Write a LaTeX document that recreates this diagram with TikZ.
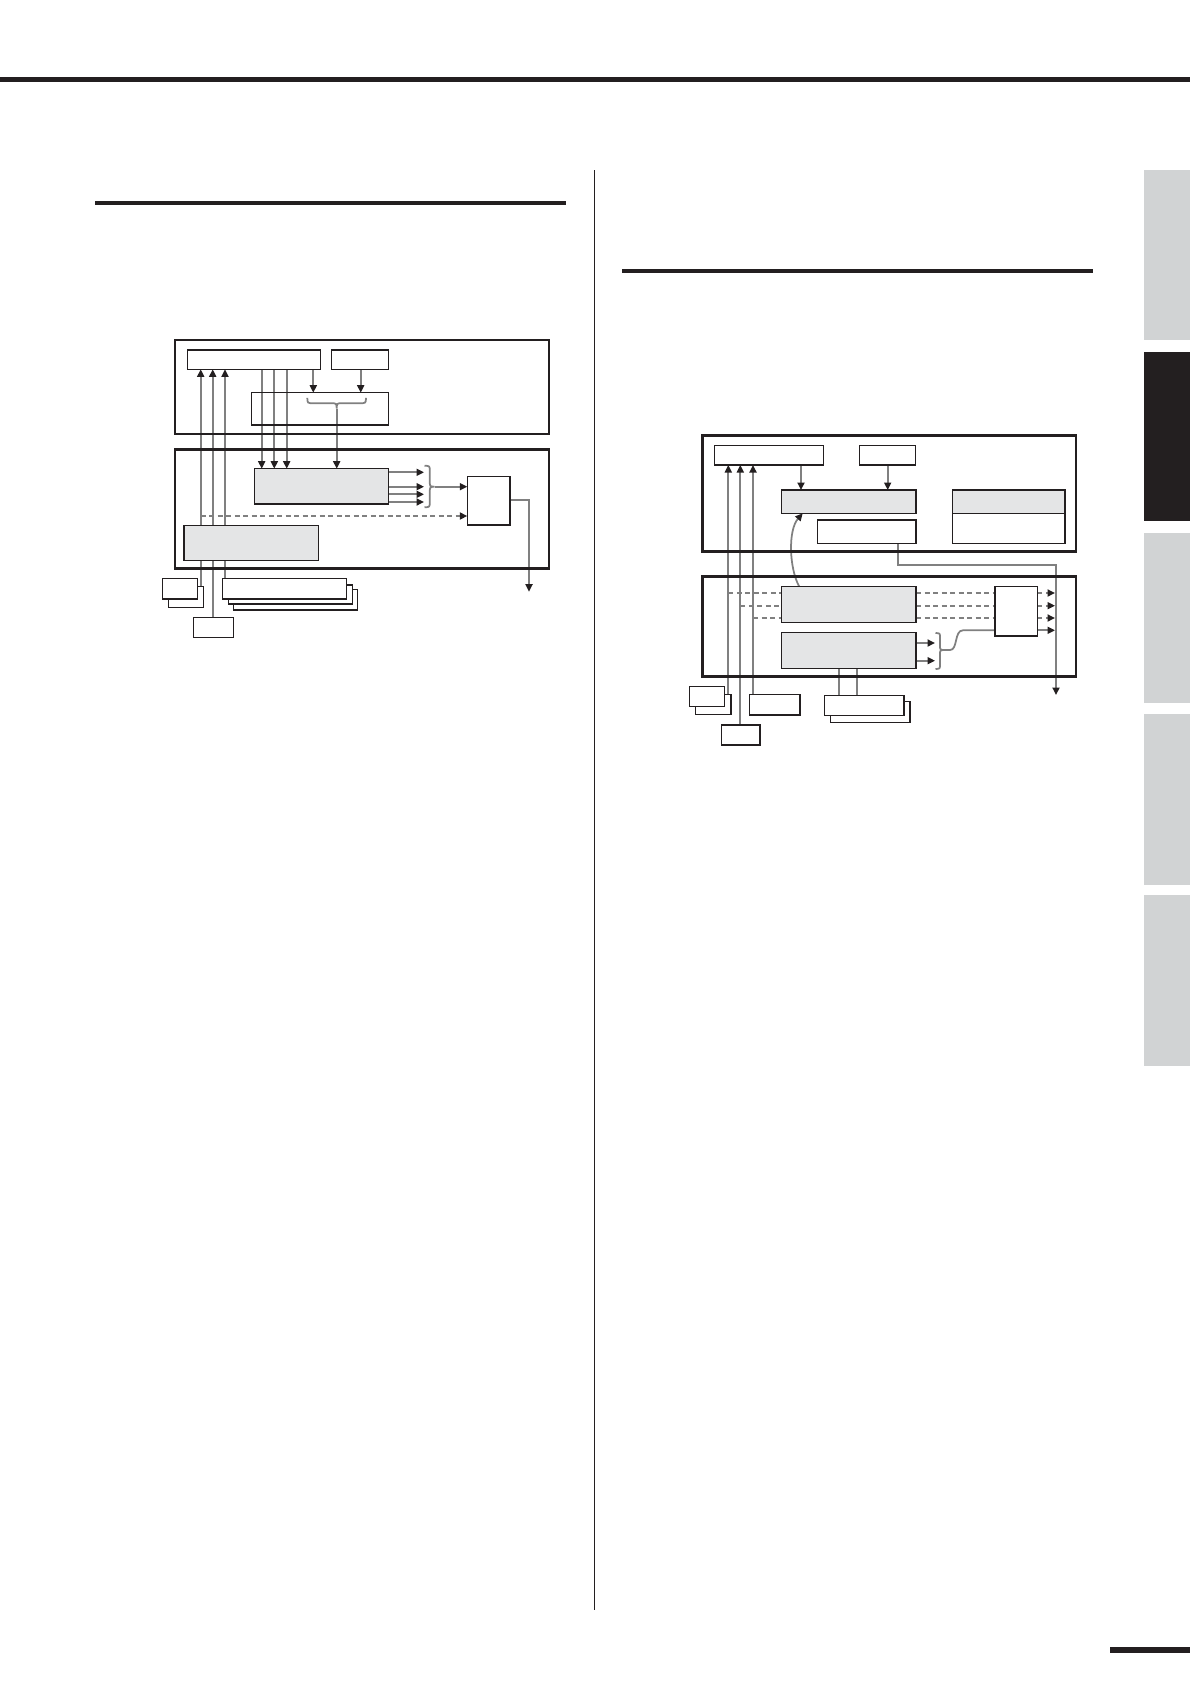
\documentclass[tikz,border=0pt]{standalone}
\usetikzlibrary{arrows.meta}
\definecolor{ink}{HTML}{231F20}
\definecolor{tabgray}{HTML}{D1D3D4}
\definecolor{boxgray}{HTML}{E4E5E6}
\definecolor{linegray}{HTML}{808080}
\pgfdeclarelayer{bg}
\pgfsetlayers{bg,main}
\newcommand\bx[6]{%
  \pgfmathsetmacro\bxw{#4-#2}\pgfmathsetmacro\bxh{#5-#3}%
  \pgfmathsetmacro\bxcx{(#2+#4)/2}\pgfmathsetmacro\bxcy{(#3+#5)/2}%
  \node[#6,minimum width=\bxw pt,minimum height=\bxh pt] (#1) at (\bxcx,\bxcy) {};}
\begin{document}
\begin{tikzpicture}[x=1pt,y=-1pt,
  outerbox/.style={draw=ink,line width=2.5pt,inner sep=0pt,outer sep=0pt},
  wbox/.style={draw=ink,line width=1.5pt,inner sep=0pt,outer sep=0pt},
  fbox/.style={wbox,fill=white},
  gbox/.style={wbox,fill=boxgray},
  conn/.style={draw=linegray,line width=1.75pt},
  tipa/.tip={Triangle[length=7.5pt,width=7pt,color=ink,fill=ink]},
  arr/.style={conn,-tipa},
  dsh/.style={conn,dash pattern=on 5pt off 3.5pt},
  darr/.style={dsh,-tipa}]
\useasboundingbox (0,0) rectangle (1190,1684);
% page furniture
\fill[ink] (0,76.5) rectangle (1190,82);
\fill[ink] (95,201) rectangle (565.7,205);
\fill[ink] (622.3,268.7) rectangle (1092.7,273);
\fill[ink] (593.6,170) rectangle (595.1,1610);
\fill[tabgray] (1144,170) rectangle (1190,340);
\fill[ink] (1144,352) rectangle (1190,521);
\fill[tabgray] (1144,533) rectangle (1190,703);
\fill[tabgray] (1144,714) rectangle (1190,885);
\fill[tabgray] (1144,895) rectangle (1190,1066);
\fill[ink] (1110,1646.7) rectangle (1190,1652.7);

% ===== left diagram =====
\bx{LO1}{175}{340}{549}{434}{outerbox}
\bx{LO2}{175}{449.3}{549}{568.3}{outerbox}
\bx{ltop}{187.3}{350}{320.3}{369.3}{wbox}
\bx{lsmall}{331.7}{350}{388.3}{369.3}{wbox}
\bx{lmid}{251.7}{392.7}{388.7}{425}{wbox}
\bx{lg1}{254.3}{468.7}{388.7}{504}{gbox}
\bx{lg2}{184}{525.7}{318.3}{560.3}{gbox}
\bx{lr}{467.3}{476.3}{510}{525}{wbox}
\bx{lsAb}{168.7}{586.7}{203.3}{607.3}{fbox}
\bx{lsAf}{162.7}{578.3}{197.3}{599}{fbox}
\bx{lb}{193.3}{617.7}{233.3}{637.3}{fbox}
\bx{lt3}{233.3}{589.3}{357.3}{610}{fbox}
\bx{lt2}{228.7}{585}{352.3}{604}{fbox}
\bx{lt1}{222.7}{578.3}{346.7}{599}{fbox}

\coordinate (lx1) at (200.7,0);
\coordinate (lx2) at (212.7,0);
\coordinate (lx3) at (225,0);
\coordinate (lx4) at (261.7,0);
\coordinate (lx5) at (274.3,0);
\coordinate (lx6) at (286.7,0);
\coordinate (lx7) at (313.3,0);
\coordinate (lx8) at (360.7,0);
\coordinate (lbrtip) at (336.7,408.5);
\coordinate (lbr2tip) at (434.5,486.7);
\coordinate (ldash) at (200.7,516);
\coordinate (lcorner) at (529,500);
\coordinate (lend) at (529,591.7);
\coordinate (lo1) at (424,472.3);
\coordinate (lo2) at (424,486.7);
\coordinate (lo3) at (424,494.3);
\coordinate (lo4) at (424,502);

\begin{pgfonlayer}{bg}
\draw[arr] (lx1 |- lsAb.north) -- (lx1 |- ltop.south);
\draw[arr] (lx2 |- lb.north) -- (lx2 |- ltop.south);
\draw[arr] (lx3 |- lt1.north) -- (lx3 |- ltop.south);
\draw[arr] (lx4 |- ltop.south) -- (lx4 |- lg1.north);
\draw[arr] (lx5 |- ltop.south) -- (lx5 |- lg1.north);
\draw[arr] (lx6 |- ltop.south) -- (lx6 |- lg1.north);
\draw[arr] (lx7 |- ltop.south) -- (lx7 |- lmid.north);
\draw[arr] (lx8 |- lsmall.south) -- (lx8 |- lmid.north);
% underbrace in lmid
\draw[conn] (307.3,397.8) .. controls (307.5,403.2) .. (313.3,403.2) -- (330.7,403.2)
  .. controls (336.5,403.2) .. (lbrtip) .. controls (336.9,403.2) .. (342.7,403.2)
  -- (360,403.2) .. controls (365.8,403.2) .. (366,397.8);
\draw[arr] (lbrtip) -- (lbrtip |- lg1.north);
% outputs of lg1
\draw[arr] (lo1 -| lg1.east) -- (lo1);
\draw[arr] (lo2 -| lg1.east) -- (lo2);
\draw[arr] (lo3 -| lg1.east) -- (lo3);
\draw[arr] (lo4 -| lg1.east) -- (lo4);
% right brace
\draw[conn] (424.5,465.7) .. controls (429.8,465.9) .. (429.8,471.7) -- (429.8,480.7)
  .. controls (429.8,486.5) .. (lbr2tip) .. controls (429.8,486.9) .. (429.8,492.7)
  -- (429.8,501.3) .. controls (429.8,507.1) .. (424.5,507.3);
\draw[arr] (lbr2tip) -- (lbr2tip -| lr.west);
\draw[darr] (ldash) -- (ldash -| lr.west);
\draw[arr] (lcorner -| lr.east) -- (lcorner) -- (lend);
\end{pgfonlayer}
% redraw filled gray box on top of crossing lines
\draw[gbox] (lg2.south west) rectangle (lg2.north east);

% ===== right diagram =====
\bx{RO1}{702.7}{435.7}{1076}{551.7}{outerbox}
\bx{RO2}{702.7}{576.7}{1076}{676.7}{outerbox}
\bx{rtop}{714.3}{445.7}{823.3}{465}{wbox}
\bx{rsmall}{859.3}{445.7}{915.3}{465}{wbox}
\bx{rg1}{781.7}{490}{916}{513.3}{gbox}
\bx{rw}{817.7}{520}{916}{543.3}{wbox}
\bx{rrt}{952.7}{490}{1065}{513.3}{gbox}
\bx{rrb}{952.7}{513.3}{1065}{543.3}{wbox}
\bx{rgA}{781.7}{586.7}{916}{622.3}{gbox}
\bx{rgB}{781.7}{632.7}{916}{668.3}{gbox}
\bx{rbx}{995}{586.7}{1037.3}{636}{wbox}
\bx{rsAb}{695.7}{694.3}{731}{714.3}{fbox}
\bx{rsAf}{689.3}{686.7}{724.3}{706.7}{fbox}
\bx{rb}{721.7}{725}{760}{745}{fbox}
\bx{rm}{749.3}{694.3}{800}{715}{fbox}
\bx{rstb}{830.7}{701.7}{910}{722.3}{fbox}
\bx{rstf}{824.3}{695.7}{904}{715.7}{fbox}

\coordinate (rx1) at (728.3,593);
\coordinate (rx2) at (740.3,605.7);
\coordinate (rx3) at (753,618);
\coordinate (rx4) at (801,0);
\coordinate (rx5) at (887.7,0);
\coordinate (rx6) at (839,0);
\coordinate (rx7) at (856.7,0);
\coordinate (rcs) at (799.3,0);
\coordinate (rce) at (802.7,0);
\coordinate (rwl) at (897.7,0);
\coordinate (rk1) at (897.7,565);
\coordinate (rk2) at (1056,565);
\coordinate (rk3) at (1056,695);
\coordinate (re1) at (1055,593);
\coordinate (re2) at (1055,605.7);
\coordinate (re3) at (1055,618);
\coordinate (re4) at (1055,630.3);
\coordinate (rb1) at (935,643);
\coordinate (rb2) at (935,660.7);
\coordinate (rbrtip) at (944,650);

\begin{pgfonlayer}{bg}
\draw[arr] (rx1 |- rsAb.north) -- (rx1 |- rtop.south);
\draw[arr] (rx2 |- rb.north) -- (rx2 |- rtop.south);
\draw[arr] (rx3 |- rm.north) -- (rx3 |- rtop.south);
\draw[arr] (rx4 |- rtop.south) -- (rx4 |- rg1.north);
\draw[arr] (rx5 |- rsmall.south) -- (rx5 |- rg1.north);
\draw[arr] (rcs |- rgA.north) .. controls (789,568) and (788,530) .. (rce |- rg1.south);
\draw[arr] (rwl |- rw.south) -- (rk1) -- (rk2) -- (rk3);
% dashed signal lines
\draw[dsh] (rx1) -- (rx1 -| rgA.west);
\draw[dsh] (rx2) -- (rx2 -| rgA.west);
\draw[dsh] (rx3) -- (rx3 -| rgA.west);
\draw[dsh] (rx1 -| rgA.east) -- (rx1 -| rbx.west);
\draw[dsh] (rx2 -| rgA.east) -- (rx2 -| rbx.west);
\draw[dsh] (rx3 -| rgA.east) -- (rx3 -| rbx.west);
\draw[darr] (re1 -| rbx.east) -- (re1);
\draw[darr] (re2 -| rbx.east) -- (re2);
\draw[darr] (re3 -| rbx.east) -- (re3);
\draw[arr] (re4 -| rbx.east) -- (re4);
% outputs of rgB
\draw[arr] (rb1 -| rgB.east) -- (rb1);
\draw[arr] (rb2 -| rgB.east) -- (rb2);
\draw[conn] (935.5,633) .. controls (940,633.2) .. (940,638) -- (940,645)
  .. controls (940,649.8) .. (rbrtip) .. controls (940,650.2) .. (940,655)
  -- (940,664) .. controls (940,668.8) .. (935.5,669);
\draw[conn] (rbrtip) -- (950,650) .. controls (958,650) and (954,630.3) .. (963,630.3) -- (re4 -| rbx.west);
\draw[conn] (rx6 |- rgB.south) -- (rx6 |- rstf.north);
\draw[conn] (rx7 |- rgB.south) -- (rx7 |- rstf.north);
\end{pgfonlayer}
\end{tikzpicture}
\end{document}
